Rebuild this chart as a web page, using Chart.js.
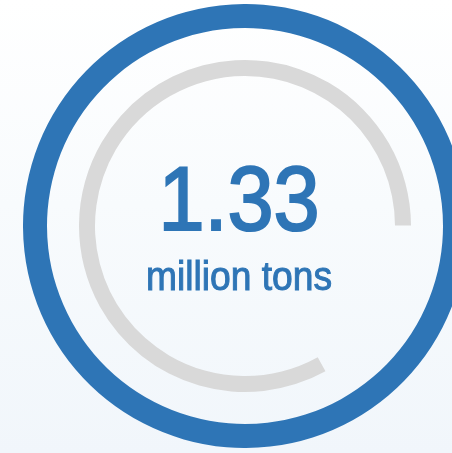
<!DOCTYPE html>
<html>
<head>
  <meta charset="utf-8" />
  <title>Gauge</title>
  <script src="https://cdn.jsdelivr.net/npm/chart.js"></script>
  <style>
    html, body {
      margin: 0;
      width: 452px;
      height: 453px;
      overflow: hidden;
      background: linear-gradient(#ffffff 0%, #f8fbfd 45%, #f1f6fb 100%);
      font-family: "Liberation Sans", Arial, sans-serif;
    }
    #gauge {
      position: absolute;
      left: 23px;
      top: 4px;
    }
  </style>
</head>
<body>
  <canvas id="gauge" width="444" height="444"></canvas>
  <script>
    // values
    const valueLabel = '1.33';
    const unitLabel = 'million tons';
    const ringValues = [100];          // full outer ring
    const progressValues = [83, 17];   // grey arc filled / empty part

    const blue = '#2e75b6';
    const grey = '#d9d9d9';

    // draw a text line a bit narrower than the font, like the original
    function squeezed(ctx, text, x, y, font, sx, lw) {
      ctx.save();
      ctx.translate(x, y);
      ctx.scale(sx, 1);
      ctx.font = font;
      ctx.lineWidth = lw;
      ctx.fillText(text, 0, 0);
      ctx.strokeText(text, 0, 0);
      ctx.restore();
    }

    // big number + unit in the hole of the doughnut
    const centerText = {
      id: 'centerText',
      afterDraw(chart) {
        const ctx = chart.ctx;
        const arc = chart.getDatasetMeta(0).data[0];
        const cx = arc.x - 6;
        const cy = arc.y;
        ctx.save();
        ctx.fillStyle = blue;
        ctx.strokeStyle = blue;
        ctx.textAlign = 'center';
        ctx.textBaseline = 'alphabetic';
        squeezed(ctx, valueLabel, cx, cy + 4, '91px "Liberation Sans", Arial, sans-serif', 0.91, 2.2);
        squeezed(ctx, unitLabel, cx, cy + 64, '40px "Liberation Sans", Arial, sans-serif', 0.93, 1);
        ctx.restore();
      }
    };

    new Chart(document.getElementById('gauge'), {
      type: 'doughnut',
      data: {
        labels: ['value', 'rest'],
        datasets: [
          { data: ringValues, backgroundColor: [blue], borderWidth: 0, weight: 24 },
          { data: [100], backgroundColor: ['rgba(0,0,0,0)'], borderWidth: 0, weight: 32 },
          { data: progressValues, backgroundColor: [grey, 'rgba(0,0,0,0)'], borderWidth: 0, weight: 16 }
        ]
      },
      options: {
        responsive: false,
        animation: false,
        cutout: 150,
        rotation: 151,
        layout: { padding: 0 },
        plugins: {
          legend: { display: false },
          tooltip: { enabled: false }
        }
      },
      plugins: [centerText]
    });
  </script>
</body>
</html>
